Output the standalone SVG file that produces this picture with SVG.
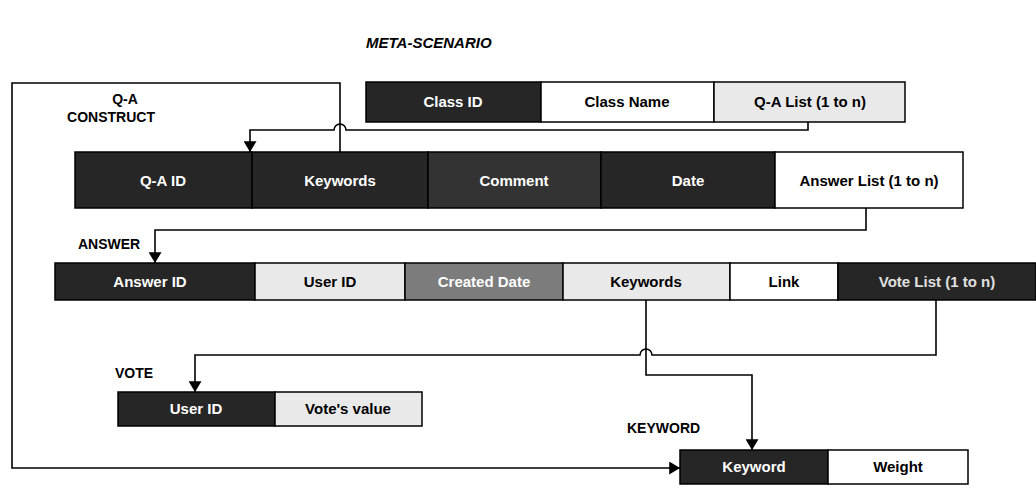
<svg xmlns="http://www.w3.org/2000/svg" width="1036" height="489" viewBox="0 0 1036 489">
<style>
text{font-family:"Liberation Sans",Arial,sans-serif;font-weight:bold;font-size:15px}
.lbl{fill:#000;font-size:14px}
.ttl{font-style:italic;font-size:15px}
.c{text-anchor:middle}
.dk{fill:#262626;stroke:#000;stroke-width:1.5}
.dm{fill:#333;stroke:#000;stroke-width:1.5}
.md{fill:#7c7c7c;stroke:#000;stroke-width:1.5}
.lt{fill:#e9e9e9;stroke:#000;stroke-width:1.5}
.wh{fill:#fff;stroke:#000;stroke-width:1.5}
.tw{fill:#fff}
.tb{fill:#000}
.tg{fill:#e0e0e0}
.ln{fill:none;stroke:#000;stroke-width:1.6}
</style>
<defs>
<marker id="ah" viewBox="0 0 10 12" refX="10" refY="6" markerWidth="11" markerHeight="13" markerUnits="userSpaceOnUse" orient="auto">
<path d="M0,0 L10,6 L0,12 z" fill="#000"/>
</marker>
</defs>
<g id="connectors">
<path class="ln" d="M808,122 V130 H346 A6,6 0 0 0 334,130 H250 V152" marker-end="url(#ah)"/>
<path class="ln" d="M340,152 V83 H12 V468 H680" marker-end="url(#ah)"/>
<path class="ln" d="M866,208 V230 H155 V263" marker-end="url(#ah)"/>
<path class="ln" d="M936,300 V355 H652 A6,6 0 0 0 640,355 H195 V392" marker-end="url(#ah)"/>
<path class="ln" d="M646,300 V375 H752 V450" marker-end="url(#ah)"/>
</g>
<g id="meta-scenario">
<text class="lbl ttl" x="366" y="48">META-SCENARIO</text>
<rect class="dk" x="366" y="82" width="175" height="40"/>
<rect class="wh" x="541" y="82" width="173" height="40"/>
<rect class="lt" x="714" y="82" width="191" height="40"/>
<text class="tw c" x="453" y="107">Class ID</text>
<text class="tb c" x="627" y="107">Class Name</text>
<text class="tb c" x="810" y="107">Q-A List (1 to n)</text>
</g>
<g id="qa-construct">
<text class="lbl c" x="125" y="104">Q-A</text>
<text class="lbl c" x="111" y="122">CONSTRUCT</text>
<rect class="dk" x="75" y="152" width="177" height="56"/>
<rect class="dk" x="252" y="152" width="176" height="56"/>
<rect class="dm" x="428" y="152" width="173" height="56"/>
<rect class="dk" x="601" y="152" width="174" height="56"/>
<rect class="wh" x="775" y="152" width="188" height="56"/>
<text class="tw c" x="163" y="186">Q-A ID</text>
<text class="tw c" x="340" y="186">Keywords</text>
<text class="tw c" x="514" y="186">Comment</text>
<text class="tw c" x="688" y="186">Date</text>
<text class="tb c" x="869" y="186">Answer List (1 to n)</text>
</g>
<g id="answer">
<text class="lbl" x="78" y="249">ANSWER</text>
<rect class="dk" x="55" y="263" width="200" height="37"/>
<rect class="lt" x="255" y="263" width="150" height="37"/>
<rect class="md" x="405" y="263" width="158" height="37"/>
<rect class="lt" x="563" y="263" width="167" height="37"/>
<rect class="wh" x="730" y="263" width="108" height="37"/>
<rect class="dk" x="838" y="263" width="198" height="37"/>
<text class="tw c" x="150" y="287">Answer ID</text>
<text class="tb c" x="330" y="287">User ID</text>
<text class="tw c" x="484" y="287">Created Date</text>
<text class="tb c" x="646" y="287">Keywords</text>
<text class="tb c" x="784" y="287">Link</text>
<text class="tg c" x="937" y="287">Vote List (1 to n)</text>
</g>
<g id="vote">
<text class="lbl" x="115" y="378">VOTE</text>
<rect class="dk" x="118" y="392" width="157" height="34"/>
<rect class="lt" x="275" y="392" width="147" height="34"/>
<text class="tw c" x="196" y="414">User ID</text>
<text class="tb c" x="348" y="414">Vote's value</text>
</g>
<g id="keyword">
<text class="lbl" x="627" y="433">KEYWORD</text>
<rect class="dk" x="680" y="450" width="148" height="34"/>
<rect class="wh" x="828" y="450" width="140" height="34"/>
<text class="tw c" x="754" y="472">Keyword</text>
<text class="tb c" x="898" y="472">Weight</text>
</g>
</svg>
